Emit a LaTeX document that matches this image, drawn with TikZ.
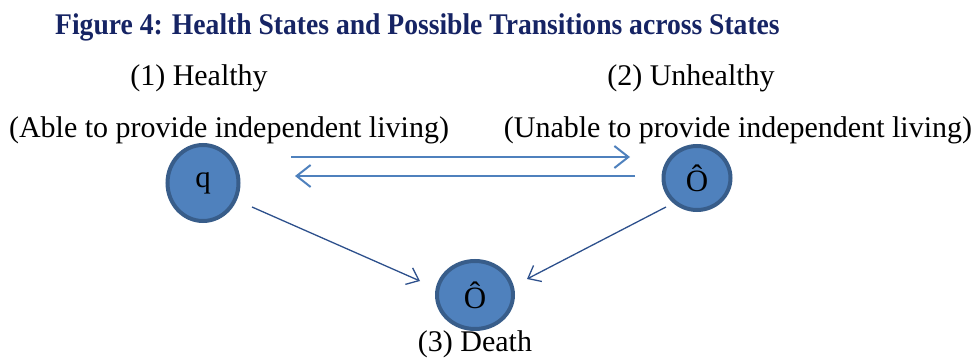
\documentclass[tikz,border=0pt]{standalone}
\usepackage{fontspec}
\setmainfont{Liberation Serif}
\usetikzlibrary{arrows.meta}
\usetikzlibrary{shapes.geometric}
\definecolor{titleblue}{RGB}{22,36,100}
\definecolor{nodefill}{RGB}{79,129,189}
\definecolor{nodeedge}{RGB}{56,93,138}
\definecolor{thickarr}{RGB}{79,129,189}
\definecolor{thinarr}{RGB}{45,80,140}
\tikzset{
  txt/.style={font=\fontsize{30}{36}\selectfont, inner sep=0pt, anchor=base},
  state/.style={ellipse, draw=nodeedge, line width=4pt, fill=nodefill, inner sep=0pt, font=\fontsize{31}{36}\selectfont},
  bigarrow/.style={draw=thickarr, line width=2pt, -{Straight Barb[length=14pt,width=22pt,line width=2pt]}},
  smallarrow/.style={draw=thinarr, line width=1.3pt, -{Straight Barb[length=11pt,width=18pt,line width=1.3pt]}}
}
\begin{document}
\begin{tikzpicture}[x=1pt,y=-1pt]
\useasboundingbox (0,0) rectangle (978,358);
\node[anchor=base west, inner sep=0pt, text=titleblue, font=\bfseries\fontsize{30}{36}\selectfont] (title) at (55,35) {\scalebox{0.92}[1]{Figure 4: Health States and Possible Transitions across States}};
\node[txt] (h1) at (199,86) {(1) Healthy};
\node[txt] (h2) at (229,138) {(Able to provide independent living)};
\node[txt] (u1) at (691,86) {(2) Unhealthy};
\node[txt] (u2) at (738,138) {(Unable to provide independent living)};
\node[state, minimum width=71pt, minimum height=76pt] (q) at (203,183) {q};
\node[state, minimum width=67pt, minimum height=64pt] (u) at (697,178) {Ô};
\node[state, minimum width=76pt, minimum height=68pt] (d) at (475,295) {Ô};
\node[txt] (dl) at (475,351.5) {(3) Death};
\coordinate (a1s) at (291,157);
\coordinate (a1e) at (630,157);
\coordinate (a2s) at (635,176);
\coordinate (a2e) at (295,176);
\draw[bigarrow] (a1s) -- (a1e);
\draw[bigarrow] (a2s) -- (a2e);
\coordinate (b1s) at (252,207);
\coordinate (b1e) at (420,281);
\coordinate (b2s) at (666,207);
\coordinate (b2e) at (527,279);
\draw[smallarrow] (b1s) -- (b1e);
\draw[smallarrow] (b2s) -- (b2e);
\end{tikzpicture}
\end{document}
